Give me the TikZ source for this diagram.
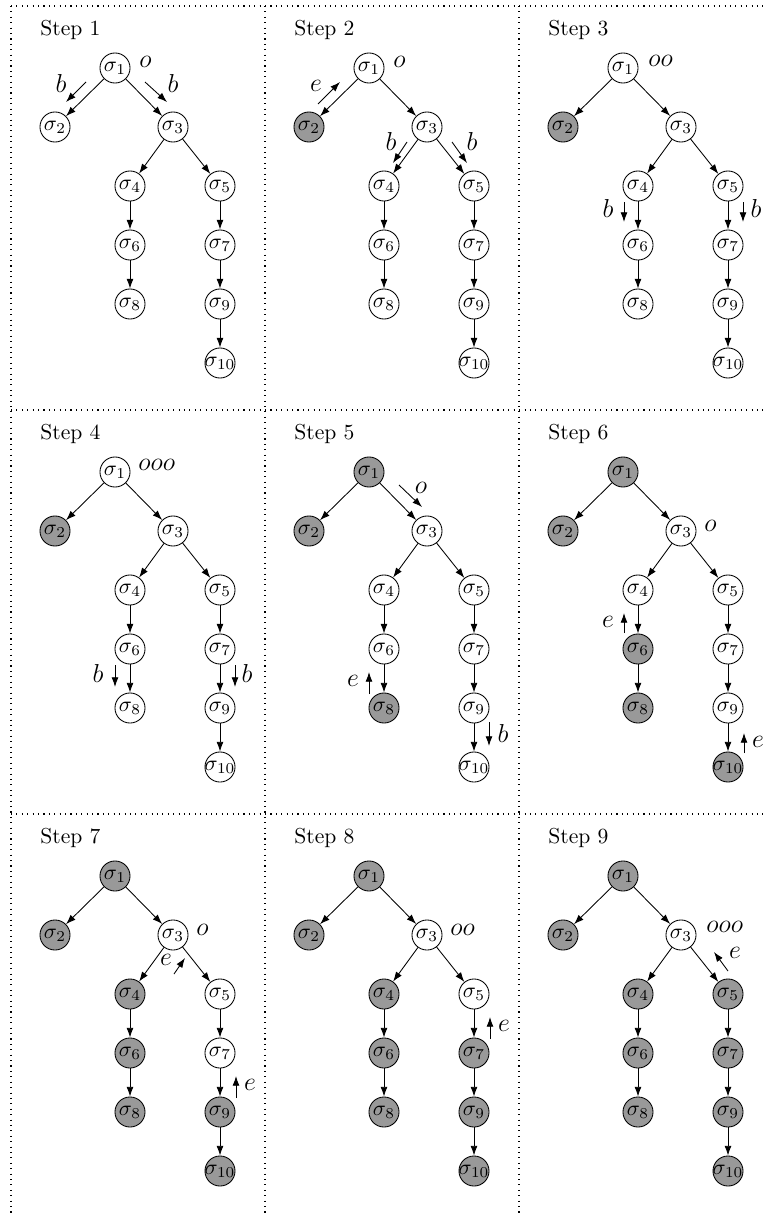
\documentclass[tikz,border=0pt]{standalone}
\usetikzlibrary{arrows.meta}
\makeatletter
\newcommand\GrayIf[2]{\edef\@tmpa{\noexpand\in@{,#1,}{,#2,}}\@tmpa
  \ifin@\def\NdFill{gfill}\else\def\NdFill{white}\fi}
\makeatother
\definecolor{gfill}{gray}{0.6}
\tikzset{
  treenode/.style={circle,draw=black,line width=0.4pt,inner sep=0pt,minimum size=13.9pt},
  treeedge/.style={-{Latex[length=4.5pt,width=3.2pt]},line width=0.4pt},
  msg/.style={-{Latex[length=4.5pt,width=3.2pt]},line width=0.4pt},
  ml/.style={inner sep=0pt,font=\large},
  ol/.style={inner sep=0pt,anchor=west,font=\large},
  steplabel/.style={inner sep=0pt,anchor=west},
  sep/.style={dotted,line width=0.5pt}
}
\newcommand\TreePanel[5]{%
\begin{scope}[shift={(#2,#3)}]
 \node[steplabel] (#1s) at (29,24) {Step #4};
 \foreach \i/\x/\y in {1/104/62,2/44/121,3/162/121,4/119/180,5/209/180,6/119/239,7/209/239,8/119/298,9/209/298,10/209/357}{
   \GrayIf{\i}{#5}
   \node[treenode,fill=\NdFill] (#1n\i) at (\x,\y) {\makebox[0pt]{$\sigma_{\i}$}};
 }
 \foreach \a/\b in {1/2,1/3,3/4,3/5,4/6,5/7,6/8,7/9,9/10} \draw[treeedge] (#1n\a) -- (#1n\b);
\end{scope}}
\begin{document}
\begin{tikzpicture}[x=0.4625pt,y=-0.4625pt]
\useasboundingbox (0,0) rectangle (765,1215);
% separators
\draw[sep] (11,6) -- (765,6);
\draw[sep] (11,410) -- (765,410);
\draw[sep] (11,814) -- (765,814);
\draw[sep] (11,6) -- (11,1215);
\draw[sep] (265,6) -- (265,1215);
\draw[sep] (519,6) -- (519,1215);
% trees
\TreePanel{A}{11}{6}{1}{0}
\TreePanel{B}{265}{6}{2}{2}
\TreePanel{C}{519}{6}{3}{2}
\TreePanel{D}{11}{410}{4}{2}
\TreePanel{E}{265}{410}{5}{1,2,8}
\TreePanel{F}{519}{410}{6}{1,2,6,8,10}
\TreePanel{G}{11}{814}{7}{1,2,4,6,8,9,10}
\TreePanel{H}{265}{814}{8}{1,2,4,6,7,8,9,10}
\TreePanel{I}{519}{814}{9}{1,2,4,5,6,7,8,9,10}
% panel 1
\begin{scope}[shift={(11,6)}]
 \draw[msg] (75,76) -- (55,96); \node[ml] (A1) at (50,77) {$b$};
 \draw[msg] (134,76) -- (156,96); \node[ml] (A2) at (162,77) {$b$};
 \node[ol] (A3) at (128,56) {$o$};
\end{scope}
% panel 2
\begin{scope}[shift={(265,6)}]
 \draw[msg] (53,98) -- (75,76); \node[ml] (B1) at (51,80) {$e$};
 \draw[msg] (142,136) -- (128,157); \node[ml] (B2) at (126,135) {$b$};
 \draw[msg] (187,136) -- (202,157); \node[ml] (B3) at (207,135) {$b$};
 \node[ol] (B4) at (128,56) {$o$};
\end{scope}
% panel 3
\begin{scope}[shift={(519,6)}]
 \node[ol] (C1) at (129,55) {$oo$};
 \draw[msg] (105,196) -- (105,216); \node[ml] (C2) at (89,202) {$b$};
 \draw[msg] (224,196) -- (224,216); \node[ml] (C3) at (237,202) {$b$};
\end{scope}
% panel 4
\begin{scope}[shift={(11,410)}]
 \node[ol] (D1) at (127,55) {$ooo$};
 \draw[msg] (104,255) -- (104,277); \node[ml] (D2) at (87,263) {$b$};
 \draw[msg] (224,255) -- (224,277); \node[ml] (D3) at (236,263) {$b$};
\end{scope}
% panel 5
\begin{scope}[shift={(265,410)}]
 \draw[msg] (134,75) -- (157,97); \node[ml] (E1) at (156,78) {$o$};
 \draw[msg] (104,284) -- (104,262); \node[ml] (E2) at (88,271) {$e$};
 \draw[msg] (224,312) -- (224,336); \node[ml] (E3) at (238,323) {$b$};
\end{scope}
% panel 6
\begin{scope}[shift={(519,410)}]
 \node[ol] (F1) at (185,116) {$o$};
 \draw[msg] (105,223) -- (105,203); \node[ml] (F2) at (89,212) {$e$};
 \draw[msg] (225,343) -- (225,323); \node[ml] (F3) at (239,332) {$e$};
\end{scope}
% panel 7
\begin{scope}[shift={(11,814)}]
 \node[ol] (G1) at (185,116) {$o$};
 \draw[msg] (163,160) -- (174,144); \node[ml] (G2) at (155,146) {$e$};
 \draw[msg] (225,284) -- (225,262); \node[ml] (G3) at (239,271) {$e$};
\end{scope}
% panel 8
\begin{scope}[shift={(265,814)}]
 \node[ol] (H1) at (185,116) {$oo$};
 \draw[msg] (225,225) -- (225,203); \node[ml] (H2) at (239,212) {$e$};
\end{scope}
% panel 9
\begin{scope}[shift={(519,814)}]
 \node[ol] (I1) at (187,113) {$ooo$};
 \draw[msg] (209,157) -- (195,138); \node[ml] (I2) at (216,139) {$e$};
\end{scope}
\end{tikzpicture}
\end{document}
